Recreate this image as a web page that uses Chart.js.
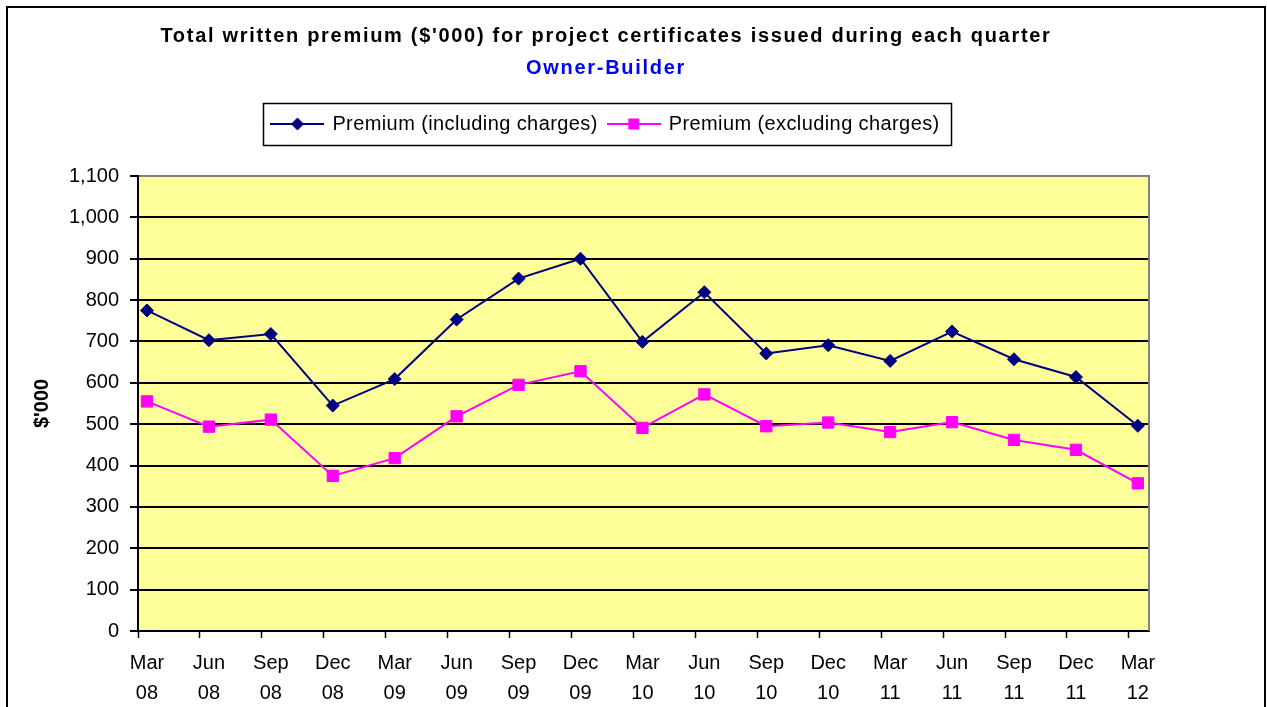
<!DOCTYPE html>
<html>
<head>
<meta charset="utf-8">
<script src="https://cdn.jsdelivr.net/npm/chart.js@4/dist/chart.umd.min.js"></script>
<style>
    html, body { margin: 0; padding: 0; background: #ffffff; }
    canvas { display: block; }
</style>
</head>
<body>
<canvas id="premiumChart" width="1267" height="707"></canvas>
<script>
// ==============================
// DATA
// ==============================
const quarters = ['Mar 08', 'Jun 08', 'Sep 08', 'Dec 08', 'Mar 09', 'Jun 09', 'Sep 09', 'Dec 09',
    'Mar 10', 'Jun 10', 'Sep 10', 'Dec 10', 'Mar 11', 'Jun 11', 'Sep 11', 'Dec 11', 'Mar 12'];
const premiumIncluding = [775, 703, 718, 545, 609, 753, 852, 900, 699, 819, 671, 691, 653, 724, 657, 614, 496];
const premiumExcluding = [555, 494, 511, 375, 418, 519, 595, 628, 491, 572, 495, 504, 481, 505, 462, 438, 357];
const yTickValues = [0, 100, 200, 300, 400, 500, 600, 700, 800, 900, 1000, 1100];
const seriesNames = ['Premium (including charges)', 'Premium (excluding charges)'];

// x range a bit wider than the points, tick marks sit left of each point (as in Excel)
const X_MIN = -0.145;
const X_MAX = 16.18;
const TICK_SHIFT = -0.145;

// the original text is drawn a little wider than Arial
const TITLE_SPACING = '1.7px';
const LEGEND_SPACING = '0.4px';

Chart.defaults.font.family = "'Liberation Sans', Arial, sans-serif";
Chart.defaults.color = '#000';

// ==============================
// LEGEND SAMPLES (line + marker)
// ==============================
function legendSample(color, shape) {
    const c = document.createElement('canvas');
    c.width = 54;
    c.height = 16;
    const g = c.getContext('2d');
    g.strokeStyle = color;
    g.lineWidth = 2;
    g.beginPath();
    g.moveTo(0, 8);
    g.lineTo(54, 8);
    g.stroke();
    g.fillStyle = color;
    if (shape === 'diamond') {
        g.beginPath();
        g.moveTo(27, 1.5);
        g.lineTo(33.5, 8);
        g.lineTo(27, 14.5);
        g.lineTo(20.5, 8);
        g.closePath();
        g.fill();
    } else {
        g.fillRect(21.5, 2.5, 11, 11);
    }
    return c;
}
const samples = [legendSample('#000080', 'diamond'), legendSample('#FF00FF', 'square')];

// ==============================
// PLUGIN: FRAMES AND BACKGROUND
// ==============================
const framePlugin = {
    id: 'frames',
    beforeInit(chart) {
        // wider text for title and subtitle
        chart.boxes.forEach(box => {
            if (box.options && typeof box.options.text === 'string') {
                const drawOrig = box.draw;
                box.draw = function (area) {
                    this.ctx.save();
                    this.ctx.letterSpacing = TITLE_SPACING;
                    drawOrig.call(this, area);
                    this.ctx.restore();
                };
            }
        });

        // legend keeps its look but takes more room below it
        const legend = chart.legend;
        const fitOrig = legend.fit;
        legend.fit = function () {
            this.ctx.save();
            this.ctx.letterSpacing = LEGEND_SPACING;
            fitOrig.call(this);
            this.ctx.restore();
            this.height = 73;
        };
        const legendDraw = legend.draw;
        legend.draw = function () {
            this.ctx.save();
            this.ctx.letterSpacing = LEGEND_SPACING;
            legendDraw.call(this);
            this.ctx.restore();
        };
    },
    beforeDraw(chart) {
        const { ctx, chartArea: a } = chart;
        ctx.save();
        ctx.fillStyle = '#FFFF99';
        ctx.fillRect(a.left, a.top, a.right - a.left, a.bottom - a.top);
        ctx.restore();
    },
    beforeDatasetsDraw(chart) {
        const { ctx, chartArea: a } = chart;
        ctx.save();
        ctx.strokeStyle = '#808080';
        ctx.lineWidth = 2;
        ctx.beginPath();
        ctx.moveTo(a.right, a.top - 1);
        ctx.lineTo(a.right, a.bottom);
        ctx.stroke();
        ctx.restore();
    },
    afterDraw(chart) {
        const ctx = chart.ctx;
        ctx.save();
        // outer frame
        ctx.strokeStyle = '#000';
        ctx.lineWidth = 2;
        ctx.strokeRect(7, 7, 1258, 720);
        // legend box
        const hb = chart.legend.legendHitBoxes;
        if (hb && hb.length) {
            const first = hb[0];
            const last = hb[hb.length - 1];
            const left = first.left - 9;
            const right = last.left + last.width + 12;
            const top = first.top - 11;
            const bottom = first.top + first.height + 11;
            ctx.lineWidth = 1.5;
            ctx.strokeRect(Math.round(left) + 0.5, Math.round(top) + 0.5, Math.round(right - left), Math.round(bottom - top));
        }
        ctx.restore();
    }
};

// ==============================
// CHART
// ==============================
new Chart(document.getElementById('premiumChart'), {
    type: 'line',
    data: {
        datasets: [{
            label: seriesNames[0],
            data: premiumIncluding.map((v, i) => ({ x: i, y: v })),
            xAxisID: 'x',
            borderColor: '#000080',
            backgroundColor: '#000080',
            borderWidth: 2,
            pointStyle: 'rectRot',
            pointRadius: 6.5,
            pointHoverRadius: 6.5,
            pointBorderWidth: 1,
            tension: 0
        }, {
            label: seriesNames[1],
            data: premiumExcluding.map((v, i) => ({ x: i, y: v })),
            xAxisID: 'x',
            borderColor: '#FF00FF',
            backgroundColor: '#FF00FF',
            borderWidth: 2,
            pointStyle: 'rect',
            pointRadius: 8,
            pointHoverRadius: 8,
            pointBorderWidth: 1,
            tension: 0
        }]
    },
    options: {
        responsive: false,
        animation: false,
        layout: {
            padding: { left: 8, right: 63, top: 8, bottom: 0 }
        },
        plugins: {
            title: {
                display: true,
                text: "Total written premium ($'000) for project certificates issued during each quarter",
                color: '#000',
                font: { size: 20, weight: 'bold', lineHeight: 1.2 },
                padding: { top: 16, bottom: 8 }
            },
            subtitle: {
                display: true,
                text: 'Owner-Builder',
                color: '#0000FF',
                font: { size: 20, weight: 'bold', lineHeight: 1.2 },
                padding: { top: 0, bottom: 23 }
            },
            legend: {
                display: true,
                labels: {
                    usePointStyle: true,
                    pointStyleWidth: 50,
                    padding: 11,
                    color: '#000',
                    font: { size: 20 },
                    generateLabels(chart) {
                        const items = Chart.defaults.plugins.legend.labels.generateLabels(chart);
                        items.forEach((it, i) => { it.pointStyle = samples[i]; });
                        return items;
                    }
                }
            },
            tooltip: { enabled: false }
        },
        scales: {
            xt: {
                type: 'linear',
                position: 'bottom',
                weight: 0,
                min: X_MIN,
                max: X_MAX,
                bounds: 'data',
                afterBuildTicks(scale) {
                    scale.ticks = quarters.map((q, i) => ({ value: i + TICK_SHIFT }));
                },
                afterFit(scale) {
                    scale.height = 7;
                    scale.paddingLeft = 0;
                    scale.paddingRight = 0;
                },
                grid: {
                    drawOnChartArea: false,
                    drawTicks: true,
                    tickLength: 7,
                    tickColor: '#000',
                    tickWidth: 1.5
                },
                border: { display: true, color: '#000', width: 2 },
                ticks: { display: false }
            },
            x: {
                type: 'linear',
                position: 'bottom',
                weight: 1,
                min: X_MIN,
                max: X_MAX,
                bounds: 'data',
                afterBuildTicks(scale) {
                    scale.ticks = quarters.map((q, i) => ({ value: i }));
                },
                afterFit(scale) {
                    scale.height = 69;
                    scale.paddingLeft = 0;
                    scale.paddingRight = 118;
                },
                grid: { display: false, drawTicks: false },
                border: { display: false },
                ticks: {
                    autoSkip: false,
                    maxRotation: 0,
                    padding: 10,
                    color: '#000',
                    font: { size: 20, lineHeight: 1.5 },
                    callback: (v) => quarters[v] ? quarters[v].split(' ') : ''
                }
            },
            y: {
                min: 0,
                max: 1100,
                afterBuildTicks(scale) {
                    scale.ticks = yTickValues.map(v => ({ value: v }));
                },
                afterFit(scale) {
                    scale.width = 130;
                },
                grid: {
                    color: (c) => (c.tick && c.tick.value === 1100) ? '#808080' : '#000',
                    lineWidth: 2,
                    tickColor: '#000',
                    tickLength: 8
                },
                border: { color: '#000', width: 2 },
                ticks: {
                    padding: 11,
                    color: '#000',
                    font: { size: 20 },
                    callback: (v) => v.toLocaleString('en-US')
                },
                title: {
                    display: true,
                    text: "$'000",
                    color: '#000',
                    font: { size: 20, weight: 'bold' },
                    padding: { top: 22, bottom: 0 }
                }
            }
        }
    },
    plugins: [framePlugin]
});
</script>
</body>
</html>
